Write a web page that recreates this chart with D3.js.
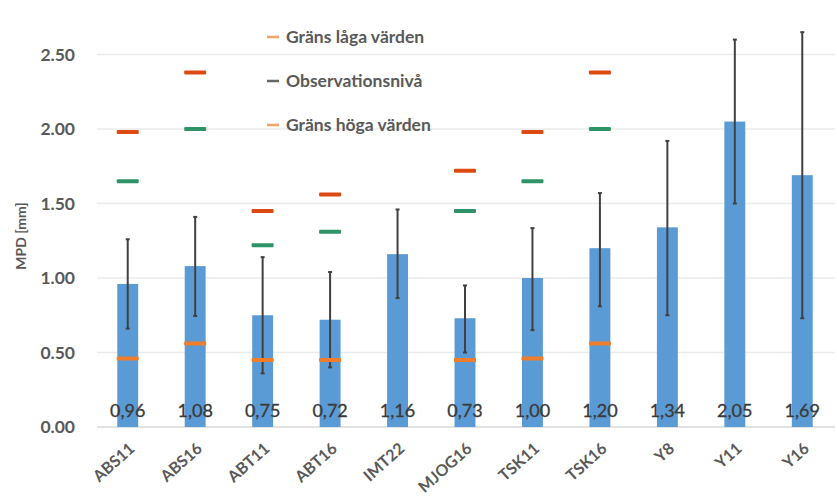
<!DOCTYPE html>
<html>
<head>
<meta charset="utf-8">
<script src="https://cdn.jsdelivr.net/npm/d3@7"></script>
<style>
  body { margin: 0; background: #fff; }
  svg { display: block; font-family: Lato, "Open Sans", sans-serif; }
</style>
</head>
<body>
<svg id="chart" width="837" height="496"></svg>
<script>
// kategorier och värden
const categories = ['ABS11', 'ABS16', 'ABT11', 'ABT16', 'IMT22', 'MJOG16', 'TSK11', 'TSK16', 'Y8', 'Y11', 'Y16'];
const mpd = [0.96, 1.08, 0.75, 0.72, 1.16, 0.73, 1.00, 1.20, 1.34, 2.05, 1.69];
const errLow = [0.66, 0.745, 0.36, 0.40, 0.865, 0.50, 0.65, 0.81, 0.75, 1.50, 0.73];
const errHigh = [1.26, 1.41, 1.14, 1.04, 1.46, 0.95, 1.335, 1.57, 1.92, 2.60, 2.65];
const limitLow = [0.46, 0.56, 0.45, 0.45, null, 0.45, 0.46, 0.56, null, null, null];
const obsLevel = [1.65, 2.00, 1.22, 1.31, null, 1.45, 1.65, 2.00, null, null, null];
const limitHigh = [1.98, 2.38, 1.45, 1.56, null, 1.72, 1.98, 2.38, null, null, null];
const yTicks = [0, 0.5, 1.0, 1.5, 2.0, 2.5];
const legendItems = [
    { label: 'Gräns låga värden', color: '#f4a36a' },
    { label: 'Observationsnivå', color: '#666666' },
    { label: 'Gräns höga värden', color: '#f4a36a' }
];

const svg = d3.select('#chart');

const x = d3.scaleBand()
    .domain(categories)
    .range([94, 836])
    .paddingInner(0.69)
    .paddingOuter(0.345);

const y = d3.scaleLinear()
    .domain([0, 2.5])
    .range([427, 54.5]);

const cx = c => x(c) + x.bandwidth() / 2;

// rutnät
svg.append('g')
    .selectAll('line')
    .data(yTicks)
    .join('line')
    .attr('x1', 97)
    .attr('x2', 835)
    .attr('y1', d => y(d))
    .attr('y2', d => y(d))
    .attr('stroke', d => d === 0 ? '#d9d9d9' : '#ebebeb')
    .attr('stroke-width', 1.5);

// y-axel
const yAxis = d3.axisLeft(y).tickValues(yTicks).tickFormat(d3.format('.2f')).tickSize(0).tickPadding(0);
const yg = svg.append('g').attr('transform', 'translate(75,0)').call(yAxis);
yg.select('.domain').remove();
yg.selectAll('text')
    .attr('font-size', 17.5)
    .attr('font-weight', 700)
    .attr('fill', '#595959')
    .attr('font-family', 'Lato, sans-serif');

svg.append('text')
    .attr('transform', 'translate(26,236) rotate(-90)')
    .attr('text-anchor', 'middle')
    .attr('font-size', 14)
    .attr('font-weight', 700)
    .attr('fill', '#595959')
    .text('MPD [mm]');

// staplar
svg.append('g')
    .selectAll('rect')
    .data(categories)
    .join('rect')
    .attr('x', d => x(d))
    .attr('width', x.bandwidth())
    .attr('y', (d, i) => y(mpd[i]))
    .attr('height', (d, i) => y(0) - y(mpd[i]))
    .attr('fill', '#5b9bd5');

// felstaplar
const eg = svg.append('g').attr('stroke', '#404040').attr('stroke-width', 2);
categories.forEach((c, i) => {
    eg.append('line')
        .attr('x1', cx(c)).attr('x2', cx(c))
        .attr('y1', y(errLow[i])).attr('y2', y(errHigh[i]));
    [errLow[i], errHigh[i]].forEach(v => {
        eg.append('line')
            .attr('x1', cx(c) - 2).attr('x2', cx(c) + 2)
            .attr('y1', y(v)).attr('y2', y(v));
    });
});

// gränsmarkörer
function markers(values, color) {
    svg.append('g')
        .selectAll('rect')
        .data(categories.map((c, i) => ({ c, v: values[i] })).filter(d => d.v !== null))
        .join('rect')
        .attr('x', d => cx(d.c) - 11)
        .attr('width', 22)
        .attr('y', d => y(d.v) - 2)
        .attr('height', 4)
        .attr('rx', 1)
        .attr('fill', color);
}
markers(limitHigh, '#dc4a12');
markers(obsLevel, '#2e9467');
markers(limitLow, '#f07d2c');

// dataetiketter
svg.append('g')
    .selectAll('text')
    .data(categories)
    .join('text')
    .attr('x', d => cx(d))
    .attr('y', 417)
    .attr('text-anchor', 'middle')
    .attr('font-size', 18)
    .attr('fill', '#3a3a3a')
    .attr('stroke', '#3a3a3a')
    .attr('stroke-width', 0.3)
    .text((d, i) => mpd[i].toFixed(2).replace('.', ','));

// kategorietiketter
svg.append('g')
    .selectAll('text')
    .data(categories)
    .join('text')
    .attr('transform', d => `translate(${cx(d) + 8},450) rotate(-42)`)
    .attr('text-anchor', 'end')
    .attr('font-size', 16)
    .attr('font-weight', 700)
    .attr('fill', '#595959')
    .text(d => d);

// förklaring
const lg = svg.append('g');
legendItems.forEach((item, i) => {
    const ly = 37 + i * 44;
    lg.append('line')
        .attr('x1', 267).attr('x2', 279)
        .attr('y1', ly).attr('y2', ly)
        .attr('stroke', item.color)
        .attr('stroke-width', 2.5);
    lg.append('text')
        .attr('x', 286)
        .attr('y', ly + 6)
        .attr('font-size', 17.5)
        .attr('font-weight', 700)
        .attr('fill', '#595959')
        .text(item.label);
});
</script>
</body>
</html>
